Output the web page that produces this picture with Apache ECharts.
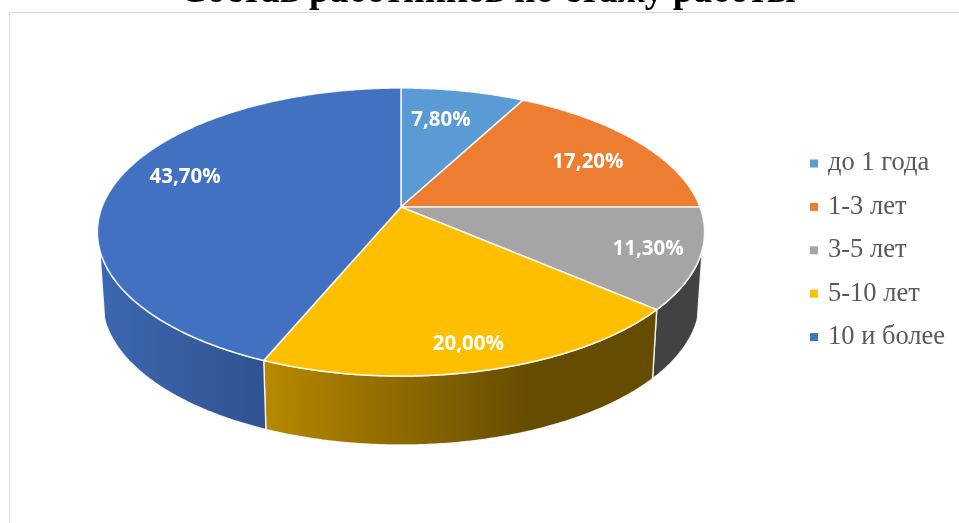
<!DOCTYPE html>
<html><head><meta charset="utf-8">
<style>html,body{margin:0;padding:0;background:#fff}#c{width:959px;height:523px}</style>
<script src="https://cdn.jsdelivr.net/npm/echarts@6/dist/echarts.min.js"></script>
</head><body><div id="c"></div>
<script>
const titleText = 'Состав работников по стажу работы';
const categories = ['до 1 года', '1-3 лет', '3-5 лет', '5-10 лет', '10 и более'];
const shares = [7.8, 17.2, 11.3, 20.0, 43.7];
const colors = ['#5b9bd5', '#ed7d31', '#a5a5a5', '#fdbf00', '#4371c1'];

// Projection of the tilted disc
const CX = 401, CY = 207, RX = 299, RY = 139.7, PERSP = 0.1736;
const DEPTH = 69, BOTTOM_SCALE = 0.984;
const SIDE_FROM = 107, SIDE_TO = 253;
// Label placement in disc space: radius fraction, angle nudge from slice middle
const labelRadius = [0.714, 0.745, 0.836, 0.86, 0.783];
const labelNudge = [-1.9, 3.7, -0.3, 0.4, 5.3];
const total = shares.reduce((a, b) => a + b, 0);
const starts = shares.map((_, i) => shares.slice(0, i).reduce((a, b) => a + b, 0) / total * 360);

function project(deg, r) {
  const t = deg * Math.PI / 180, u = r * Math.sin(t), v = r * Math.cos(t), w = 1 + PERSP * v;
  return [CX + RX * u / w, CY - RY * v / w];
}
function lower(p) { return [CX + (p[0] - CX) * BOTTOM_SCALE, p[1] + DEPTH]; }
function arc(a, b) {
  const n = Math.max(2, Math.ceil(Math.abs(b - a) * 2)), pts = [];
  for (let k = 0; k <= n; k++) pts.push(project(a + (b - a) * k / n, 1));
  return pts;
}
function hGrad(x0, x1, stops) {
  return { type: 'linear', x: x0, y: 0, x2: x1, y2: 0, global: true,
    colorStops: stops.map(s => ({ offset: s[0], color: s[1] })) };
}
const sideFills = [
  null, null, '#424242',
  hGrad(264, 530, [[0, '#b78900'], [1, '#664c00']]),
  hGrad(100, 266, [[0, '#3c68b0'], [1, '#2f5290']])
];
const edge = 'rgba(255,255,255,0.85)';

const series = categories.map((name, i) => ({
  name, type: 'custom', coordinateSystem: 'none', silent: true,
  itemStyle: { color: colors[i] },
  data: [shares[i]],
  renderItem(params, api) {
    const v = api.value(0), a = starts[i], b = a + v / total * 360;
    const children = [];
    const sa = Math.max(a, SIDE_FROM), sb = Math.min(b, SIDE_TO);
    if (sb > sa && sideFills[i]) {
      const top = arc(sa, sb);
      children.push({ type: 'polygon', z2: 0,
        shape: { points: top.concat(top.map(lower).reverse()) },
        style: { fill: sideFills[i], stroke: edge, lineWidth: 1.4 } });
    }
    children.push({ type: 'polygon', z2: 1,
      shape: { points: [[CX, CY]].concat(arc(a, b)) },
      style: { fill: colors[i], stroke: edge, lineWidth: 1.6, lineJoin: 'round' } });
    const lp = project((a + b) / 2 + labelNudge[i], labelRadius[i]);
    children.push({ type: 'text', z2: 2,
      style: { text: v.toFixed(2).replace('.', ',') + '%', x: lp[0], y: lp[1],
        fill: '#fff', align: 'center', verticalAlign: 'middle',
        font: 'bold 20.5px "Open Sans", sans-serif' } });
    return { type: 'group', children };
  }
}));

const chart = echarts.init(document.getElementById('c'), null, { renderer: 'canvas' });
chart.setOption({
  animation: false,
  backgroundColor: '#fff',
  title: { text: titleText, left: 483, top: -31, textAlign: 'center',
    textStyle: { fontFamily: '"Liberation Serif"', fontWeight: 'bold', fontSize: 37.3, color: '#000' } },
  legend: { orient: 'vertical', left: 805, top: 145, itemWidth: 8, itemHeight: 8, itemGap: 16.4,
    icon: 'rect', data: categories, selectedMode: false,
    textStyle: { fontFamily: '"Liberation Serif"', fontSize: 26.5, color: '#595959', padding: [0, 0, 0, 5] } },
  graphic: [{ type: 'rect', z: -1, silent: true,
    shape: { x: 9.5, y: 12.5, width: 1000, height: 600 },
    style: { fill: 'none', stroke: '#d9d9d9', lineWidth: 1 } }],
  series
});
</script></body></html>
